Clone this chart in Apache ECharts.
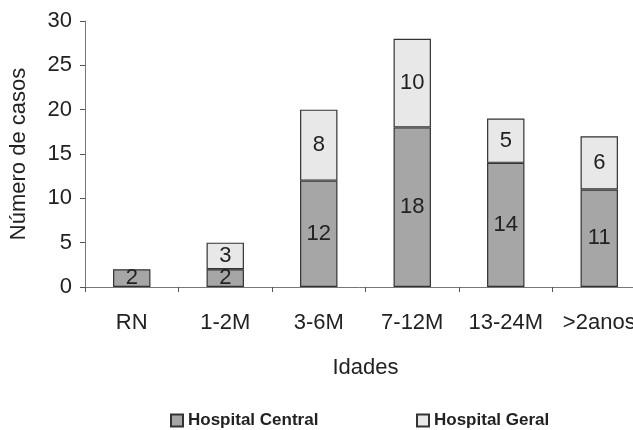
<!DOCTYPE html>
<html>
<head>
<meta charset="utf-8">
<script src="https://cdn.jsdelivr.net/npm/echarts@6/dist/echarts.min.js"></script>
<style>html,body{margin:0;padding:0;background:#fff}#c{width:633px;height:430px}</style>
</head>
<body>
<div id="c"></div>
<script>
var categories = ['RN', '1-2M', '3-6M', '7-12M', '13-24M', '>2anos'];
var hospitalCentral = [2, 2, 12, 18, 14, 11];
var hospitalGeral = [null, 3, 8, 10, 5, 6];
var yTicks = [0, 5, 10, 15, 20, 25, 30];

var font = 'Liberation Sans, Arial, sans-serif';
var chart = echarts.init(document.getElementById('c'), null, {renderer: 'canvas'});
var labelStyle = {show: true, position: 'inside', fontSize: 22, color: '#222', fontFamily: font};
chart.setOption({
  animation: false,
  grid: {left: 85, top: 21, height: 266, width: 561, containLabel: false, outerBoundsMode: 'none'},
  xAxis: {
    type: 'category', data: categories,
    axisLine: {lineStyle: {color: '#777', width: 1}},
    axisTick: {show: true, length: 5, lineStyle: {color: '#555'}},
    axisLabel: {fontSize: 22, color: '#222', fontFamily: font, margin: 25, interval: 0},
    name: 'Idades', nameLocation: 'middle', nameGap: 70,
    nameTextStyle: {fontSize: 22, color: '#222', fontFamily: font}
  },
  yAxis: {
    type: 'value', min: 0, max: 30, interval: 5,
    axisLine: {show: true, lineStyle: {color: '#777', width: 1}},
    axisTick: {show: true, length: 5, lineStyle: {color: '#555'}},
    splitLine: {show: false},
    axisLabel: {fontSize: 22, color: '#222', fontFamily: font, margin: 13,
      formatter: function (v) { return yTicks.indexOf(v) >= 0 ? String(v) : ''; }},
    name: 'Número de casos', nameLocation: 'middle', nameGap: 55, nameRotate: 90,
    nameTextStyle: {fontSize: 22, color: '#222', fontFamily: font}
  },
  legend: [
    {data: ['Hospital Central'], icon: 'rect', left: 165, top: 407, itemWidth: 12, itemHeight: 12, itemGap: 9,
     textStyle: {fontSize: 17, fontWeight: 'bold', color: '#222', fontFamily: font}},
    {data: ['Hospital Geral'], icon: 'rect', left: 411, top: 407, itemWidth: 12, itemHeight: 12, itemGap: 9,
     textStyle: {fontSize: 17, fontWeight: 'bold', color: '#222', fontFamily: font}}
  ],
  series: [
    {name: 'Hospital Central', type: 'bar', stack: 's', data: hospitalCentral, barWidth: '40%',
     itemStyle: {color: '#a6a6a6', borderColor: '#333', borderWidth: 1.2}, label: labelStyle},
    {name: 'Hospital Geral', type: 'bar', stack: 's', data: hospitalGeral, barWidth: '40%',
     itemStyle: {color: '#e8e8e8', borderColor: '#333', borderWidth: 1.2}, label: labelStyle}
  ]
});
</script>
</body>
</html>
